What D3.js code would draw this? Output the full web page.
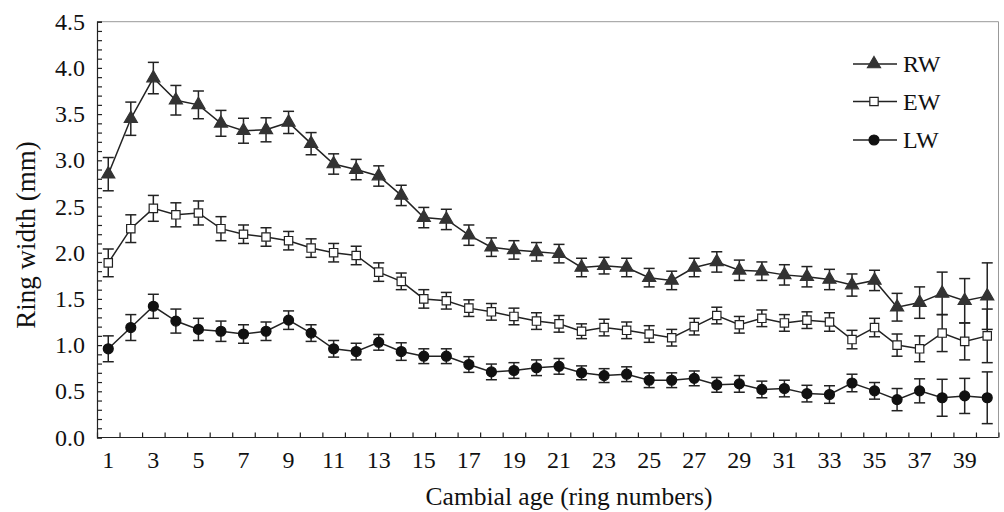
<!DOCTYPE html>
<html><head><meta charset="utf-8">
<script src="https://cdn.jsdelivr.net/npm/d3@7"></script>
<style>html,body{margin:0;padding:0;background:#fff;}svg{display:block;}</style>
</head><body><svg id="c" width="1004" height="512"></svg>
<script>
const ages = d3.range(1, 41);
const xTickLabels = d3.range(1, 41, 2);
const yTicks = [0, 0.5, 1.0, 1.5, 2.0, 2.5, 3.0, 3.5, 4.0, 4.5];
const rw = [2.85,3.45,3.89,3.65,3.60,3.40,3.32,3.33,3.41,3.18,2.96,2.90,2.83,2.62,2.38,2.36,2.19,2.06,2.03,2.01,1.99,1.84,1.86,1.84,1.73,1.70,1.84,1.90,1.81,1.80,1.76,1.74,1.71,1.65,1.70,1.41,1.46,1.56,1.48,1.53];
const rwErr = [0.18,0.18,0.17,0.16,0.15,0.14,0.135,0.13,0.12,0.12,0.11,0.11,0.11,0.11,0.11,0.11,0.11,0.10,0.10,0.10,0.10,0.10,0.09,0.10,0.10,0.10,0.10,0.11,0.11,0.10,0.11,0.11,0.11,0.12,0.11,0.15,0.17,0.23,0.24,0.36];
const ew = [1.89,2.26,2.48,2.41,2.43,2.26,2.20,2.17,2.13,2.05,2.00,1.97,1.79,1.69,1.50,1.48,1.40,1.36,1.31,1.26,1.23,1.15,1.19,1.16,1.12,1.08,1.20,1.32,1.22,1.29,1.24,1.27,1.25,1.06,1.19,1.00,0.96,1.13,1.04,1.10];
const ewErr = [0.15,0.15,0.14,0.13,0.13,0.13,0.10,0.10,0.10,0.10,0.10,0.10,0.10,0.09,0.10,0.09,0.09,0.09,0.09,0.09,0.09,0.08,0.09,0.09,0.09,0.09,0.09,0.09,0.09,0.09,0.09,0.09,0.10,0.10,0.10,0.12,0.14,0.20,0.20,0.29];
const lw = [0.96,1.19,1.42,1.26,1.17,1.15,1.12,1.15,1.27,1.13,0.96,0.93,1.03,0.93,0.88,0.88,0.79,0.71,0.725,0.755,0.77,0.70,0.67,0.685,0.62,0.62,0.64,0.57,0.58,0.52,0.53,0.475,0.465,0.59,0.505,0.41,0.505,0.43,0.45,0.43];
const lwErr = [0.14,0.14,0.13,0.13,0.12,0.11,0.10,0.10,0.10,0.09,0.09,0.09,0.085,0.095,0.08,0.08,0.085,0.085,0.085,0.085,0.085,0.075,0.075,0.08,0.08,0.08,0.08,0.08,0.09,0.09,0.09,0.09,0.095,0.095,0.09,0.12,0.13,0.20,0.19,0.28];
const seriesNames = ["RW", "EW", "LW"];

const svg = d3.select("#c");
const L = 97, R = 998.5, T = 21.7, B = 437.5;
const x = d3.scaleBand().domain(ages).range([L, R]).padding(0);
const y = d3.scaleLinear().domain([0, 4.5]).range([B, T]);
const cx = d => x(d) + x.bandwidth() / 2;
const font = "'Liberation Serif','Times New Roman',serif";
const ink = "#222";

// frame top/right
svg.append("line").attr("x1", L).attr("x2", R).attr("y1", T).attr("y2", T).attr("stroke", "#999").attr("stroke-width", 1);
svg.append("line").attr("x1", R).attr("x2", R).attr("y1", T).attr("y2", B).attr("stroke", "#999").attr("stroke-width", 1);

// y axis with minor ticks
const yAxis = d3.axisRight(y).tickValues(d3.range(0, 46).map(i => i / 10)).tickSize(5).tickFormat("");
const gy = svg.append("g").attr("transform", `translate(${L},0)`).call(yAxis);
gy.selectAll("path,line").attr("stroke", ink).attr("stroke-width", 1.2);
const yLab = d3.axisLeft(y).tickValues(yTicks).tickSize(0).tickPadding(12).tickFormat(d3.format(".1f"));
const gyl = svg.append("g").attr("transform", `translate(${L},0)`).call(yLab);
gyl.select(".domain").remove();
gyl.selectAll("text").attr("font-family", font).attr("font-size", 24).attr("fill", "#111");

// x axis: ticks at category boundaries, inside
const bounds = d3.range(0, 41);
const xb = d3.scaleLinear().domain([0, 40]).range([L, R]);
const xAxis = d3.axisTop(xb).tickValues(bounds).tickSize(5).tickFormat("");
const gx = svg.append("g").attr("transform", `translate(0,${B})`).call(xAxis);
gx.selectAll("path,line").attr("stroke", ink).attr("stroke-width", 1.2);
gx.select(".domain").attr("d", `M${L},0H${R}`);
const xLab = d3.axisBottom(x).tickValues(xTickLabels).tickSize(0).tickPadding(13);
const gxl = svg.append("g").attr("transform", `translate(0,${B})`).call(xLab);
gxl.select(".domain").remove();
gxl.selectAll("text").attr("font-family", font).attr("font-size", 24).attr("fill", "#111");

// titles
svg.append("text").attr("x", 569).attr("y", 505).attr("text-anchor", "middle")
  .attr("font-family", font).attr("font-size", 25.5).attr("fill", "#111").text("Cambial age (ring numbers)");
svg.append("text").attr("transform", `translate(35,235) rotate(-90)`).attr("text-anchor", "middle")
  .attr("font-family", font).attr("font-size", 27).attr("fill", "#111").text("Ring width (mm)");

const series = [
  {name: seriesNames[0], v: rw, e: rwErr, sym: d3.symbolTriangle, size: 74, fill: "#333", stroke: "#333"},
  {name: seriesNames[1], v: ew, e: ewErr, sym: d3.symbolSquare, size: 70, fill: "#fff", stroke: ink},
  {name: seriesNames[2], v: lw, e: lwErr, sym: d3.symbolCircle, size: 78, fill: "#111", stroke: "#111"}
];
const line = d3.line().x((d, i) => cx(ages[i])).y(d => y(d));
const cap = 5.5;
series.forEach(s => {
  const g = svg.append("g");
  s.v.forEach((v, i) => {
    const px = cx(ages[i]);
    const y1 = y(v + s.e[i]), y2 = y(v - s.e[i]);
    g.append("line").attr("x1", px).attr("x2", px).attr("y1", y1).attr("y2", y2).attr("stroke", ink).attr("stroke-width", 1.5);
    g.append("line").attr("x1", px - cap).attr("x2", px + cap).attr("y1", y1).attr("y2", y1).attr("stroke", ink).attr("stroke-width", 1.5);
    g.append("line").attr("x1", px - cap).attr("x2", px + cap).attr("y1", y2).attr("y2", y2).attr("stroke", ink).attr("stroke-width", 1.5);
  });
  g.append("path").attr("d", line(s.v)).attr("fill", "none").attr("stroke", ink).attr("stroke-width", 1.5);
  g.selectAll(".m").data(s.v).join("path")
    .attr("transform", (v, i) => `translate(${cx(ages[i])},${y(v)})`)
    .attr("d", d3.symbol().type(s.sym).size(s.size))
    .attr("fill", s.fill).attr("stroke", s.stroke).attr("stroke-width", 1.2);
});

// legend
const legY = [64, 101.5, 140];
series.forEach((s, i) => {
  const g = svg.append("g").attr("transform", `translate(853,${legY[i]})`);
  g.append("line").attr("x1", 0).attr("x2", 44).attr("stroke", ink).attr("stroke-width", 1.5);
  g.append("path").attr("transform", "translate(21,0)").attr("d", d3.symbol().type(s.sym).size(s.size))
    .attr("fill", s.fill).attr("stroke", s.stroke).attr("stroke-width", 1.2);
  g.append("text").attr("x", 50).attr("y", 0).attr("dy", "0.35em").attr("font-family", font).attr("font-size", 24)
    .attr("fill", "#111").text(s.name);
});
</script></body></html>
